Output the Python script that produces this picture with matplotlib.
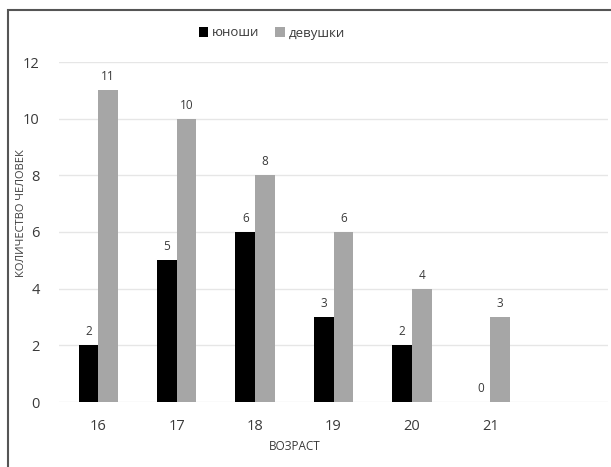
import numpy as np
import matplotlib.pyplot as plt
from matplotlib.patches import Rectangle

plt.rcParams['font.family'] = ['Open Sans', 'DejaVu Sans']

# возраст и количество человек
ages = ['16', '17', '18', '19', '20', '21']
boys = [2, 5, 6, 3, 2, 0]
girls = [11, 10, 8, 6, 4, 3]

W, H = 611, 467
fig = plt.figure(figsize=(W / 100, H / 100), dpi=100)
ax = fig.add_axes([59 / W, 1 - 402 / H, 549 / W, 340 / H])

x = np.arange(len(ages))
bw = 0.25
b1 = ax.bar(x - bw / 2, boys, bw, color='black', label='юноши', zorder=3)
b2 = ax.bar(x + bw / 2, girls, bw, color='#a6a6a6', label='девушки', zorder=3)

txt = '#3a3a3a'
for bars in (b1, b2):
    for r in bars:
        ax.annotate(str(int(r.get_height())),
                    (r.get_x() + r.get_width() / 2, r.get_height()),
                    xytext=(0, 5), textcoords='offset points',
                    ha='center', va='bottom', fontsize=8.5, color=txt)

ax.set_xlim(-0.5, 6.5)
ax.set_ylim(0, 12)
ax.set_yticks(range(0, 13, 2))
ax.set_xticks(x)
ax.set_xticklabels(ages)
ax.tick_params(length=0, labelsize=10.5, colors=txt, pad=12)
ax.tick_params(axis='y', pad=14)
ax.grid(axis='y', color='#e6e6e6', lw=1, zorder=0)
for s in ax.spines.values():
    s.set_visible(False)

fig.text(295 / W, 1 - 446 / H, 'ВОЗРАСТ', ha='center', va='center',
         fontsize=8.5, color=txt)
fig.text(22 / W, 1 - 213 / H, 'КОЛИЧЕСТВО ЧЕЛОВЕК', ha='center', va='center',
         rotation=90, fontsize=8, color=txt)

fig.legend(loc='center', bbox_to_anchor=(272 / W, 1 - 33 / H), ncol=2,
           frameon=False, fontsize=9.5, handlelength=0.7, handleheight=0.7,
           handletextpad=0.3, columnspacing=1.2, labelcolor=txt)

# рамка вокруг рисунка
fig.patches.append(Rectangle((8 / W, -0.1), 1.2, 1 - 10 / H + 0.1,
                             transform=fig.transFigure, fill=False,
                             edgecolor='#555555', lw=1.5))

fig.savefig('out.png', dpi=100)
